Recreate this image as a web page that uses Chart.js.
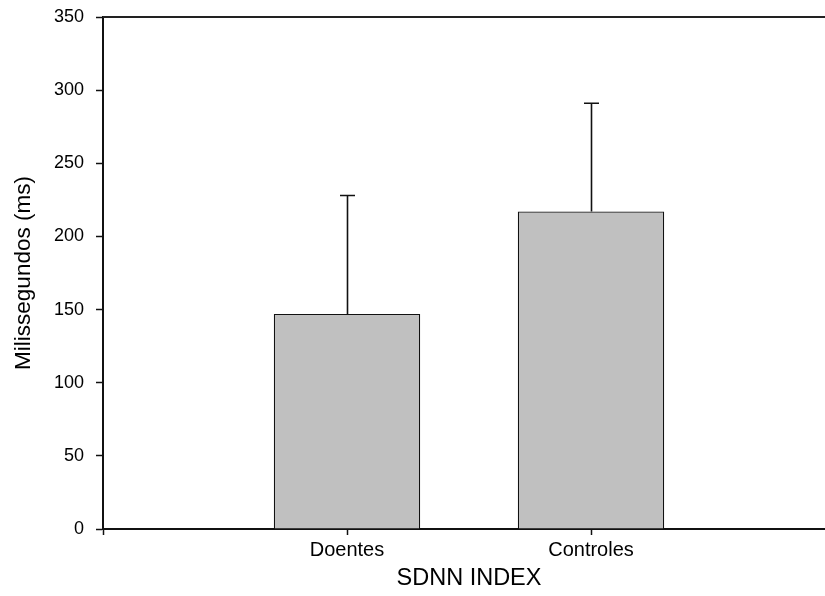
<!DOCTYPE html>
<html>
<head>
<meta charset="utf-8">
<script src="https://cdn.jsdelivr.net/npm/chart.js@4"></script>
<style>
  html, body { margin: 0; padding: 0; background: #fff; overflow: hidden; }
  #wrap { width: 850px; height: 596px; }
</style>
</head>
<body>
<div id="wrap"><canvas id="c" width="850" height="596"></canvas></div>
<script>
// Group names and their x positions on the linear axis
const categories = ['Doentes', 'Controles'];
const positions = [1, 2];
// Mean SDNN index (ms) and standard deviation per group
const means = [147, 217];
const deviations = [81, 74];
// Value axis ticks
const yTicks = [0, 50, 100, 150, 200, 250, 300, 350];

const FONT = '"Liberation Sans", Arial, sans-serif';

const points = positions.map((p, i) => ({ x: p, y: means[i] }));

// Upper error whiskers with caps, plus the top frame line
const errorBars = {
  id: 'errorBars',
  afterDatasetsDraw(chart) {
    const { ctx, scales: { x, y }, chartArea } = chart;
    ctx.save();
    ctx.strokeStyle = '#111';
    ctx.lineWidth = 1.6;
    positions.forEach((p, i) => {
      const px = Math.round(x.getPixelForValue(p)) + 0.5;
      const yBase = y.getPixelForValue(means[i]);
      const yTop = y.getPixelForValue(means[i] + deviations[i]);
      ctx.beginPath();
      ctx.moveTo(px, yBase);
      ctx.lineTo(px, yTop);
      ctx.moveTo(px - 7.5, yTop);
      ctx.lineTo(px + 7.5, yTop);
      ctx.stroke();
    });
    ctx.lineWidth = 2;
    ctx.strokeStyle = '#222';
    ctx.beginPath();
    ctx.moveTo(chartArea.left, chartArea.top);
    ctx.lineTo(chartArea.right, chartArea.top);
    ctx.stroke();
    ctx.restore();
  }
};

new Chart(document.getElementById('c'), {
  type: 'bar',
  data: {
    datasets: [{
      data: points,
      backgroundColor: '#c0c0c0',
      borderColor: '#111',
      borderWidth: 1.2,
      categoryPercentage: 1,
      barPercentage: 0.6
    }]
  },
  options: {
    responsive: false,
    devicePixelRatio: 1,
    animation: false,
    layout: { padding: { top: 17, right: 15, left: 0, bottom: 0 } },
    plugins: { legend: { display: false }, tooltip: { enabled: false } },
    scales: {
      x: {
        type: 'linear',
        min: 0,
        max: 3,
        offset: false,
        afterBuildTicks(scale) {
          scale.ticks = [0, 1, 2, 3].map(v => ({ value: v }));
        },
        afterFit(scale) {
          scale.height = 67;
          scale.paddingLeft = 0;
          scale.paddingRight = 0;
        },
        ticks: {
          color: '#000',
          font: { family: FONT, size: 20 },
          padding: 3,
          maxRotation: 0,
          callback(v) {
            const i = positions.indexOf(v);
            return i >= 0 ? categories[i] : '';
          }
        },
        grid: { offset: false, drawOnChartArea: false, tickLength: 6, tickColor: '#111', tickWidth: 1.5 },
        border: { display: true, color: '#111', width: 2 },
        title: {
          display: true,
          text: 'SDNN INDEX',
          color: '#000',
          font: { family: FONT, size: 23.5 },
          padding: { top: 0, bottom: 3 }
        }
      },
      y: {
        min: 0,
        max: 350,
        afterBuildTicks(scale) {
          scale.ticks = yTicks.map(v => ({ value: v }));
        },
        afterFit(scale) {
          scale.width = 103;
          scale.paddingTop = 0;
          scale.paddingBottom = 0;
        },
        ticks: {
          color: '#000',
          font: { family: FONT, size: 18 },
          padding: 12
        },
        grid: { drawOnChartArea: false, tickLength: 7, tickColor: '#111', tickWidth: 1.5 },
        border: { display: true, color: '#111', width: 2 },
        title: {
          display: true,
          text: 'Milissegundos (ms)',
          color: '#000',
          font: { family: FONT, size: 22.5 },
          padding: { top: 10, bottom: 0 }
        }
      }
    }
  },
  plugins: [errorBars]
});
</script>
</body>
</html>
